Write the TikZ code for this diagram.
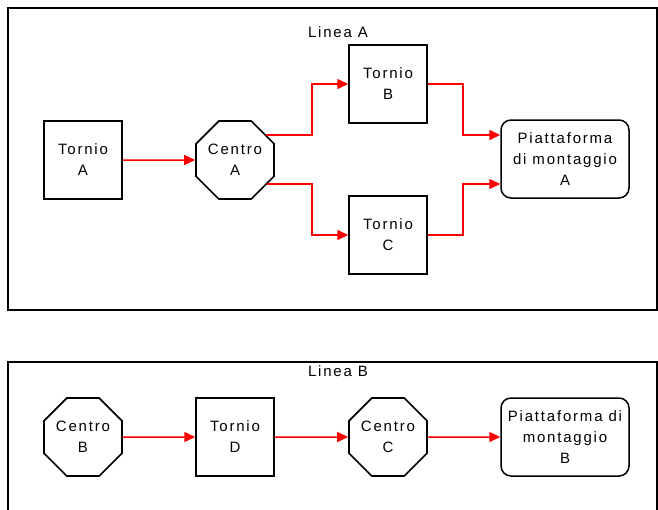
\documentclass[tikz,border=0pt]{standalone}
\usepackage{fontspec}
\setmainfont{Liberation Sans}[LetterSpace=12]
\usetikzlibrary{arrows.meta,shapes.geometric,calc}
\begin{document}
\begin{tikzpicture}[x=1pt,y=-1pt,
  every node/.style={font=\fontsize{15}{21}\selectfont},
  machine/.style={draw, line width=1.5pt, minimum width=78pt, minimum height=78pt,
    inner sep=0pt, align=center},
  octa/.style={draw, regular polygon, regular polygon sides=8, minimum size=84.4pt,
    inner sep=0pt, line width=1.6pt, align=center},
  station/.style={draw, rounded corners=10pt, minimum width=128pt, minimum height=78pt,
    inner sep=0pt, line width=1.5pt, align=center},
  flow/.style={draw=red, line width=1.5pt, -{Triangle[length=11pt,width=10pt]}},
  frame/.style={draw, line width=1.5pt}
]
\useasboundingbox (0,0) rectangle (658,509);

% frames of the two lines
\begin{scope}
  \clip (0,0) rectangle (658,509);
  \draw[frame] (8,8) rectangle (657,310);
  \draw[frame] (8,362) rectangle (657,520);
\end{scope}

% ---- Linea A ----
\node (titA) at (338,32) {Linea A};
\node[machine] (tA) at (83,160) {Tornio\\A};
\node[octa]    (cA) at (235,160) {Centro\\A};
\node[machine] (tB) at (388,84) {Tornio\\B};
\node[machine] (tC) at (388,235) {Tornio\\C};
\node[station] (pA) at (565,159) {Piattaforma\\di montaggio\\A};

% bend columns and the two entry points of the assembly platform
\coordinate (jL) at (312,0);
\coordinate (jR) at (463,0);
\coordinate (pAin1) at ($(pA.west)+(0,-24)$);
\coordinate (pAin2) at ($(pA.west)+(0,25)$);

\draw[flow] (tA) -- (cA);
\draw[flow] (cA.39.7) -- (cA.39.7 -| jL) |- (tB.west);
\draw[flow] (cA.-37.6) -- (cA.-37.6 -| jL) |- (tC.west);
\draw[flow] (tB.east) -- (tB.east -| jR) |- (pAin1);
\draw[flow] (tC.east) -- (tC.east -| jR) |- (pAin2);

% ---- Linea B ----
\node (titB) at (338,371) {Linea B};
\node[octa]    (cB) at (83,437) {Centro\\B};
\node[machine] (tD) at (235,437) {Tornio\\D};
\node[octa]    (cC) at (388,437) {Centro\\C};
\node[station] (pB) at (565,437) {Piattaforma di\\montaggio\\B};

\draw[flow] (cB) -- (tD);
\draw[flow] (tD) -- (cC);
\draw[flow] (cC) -- (pB);
\end{tikzpicture}
\end{document}
